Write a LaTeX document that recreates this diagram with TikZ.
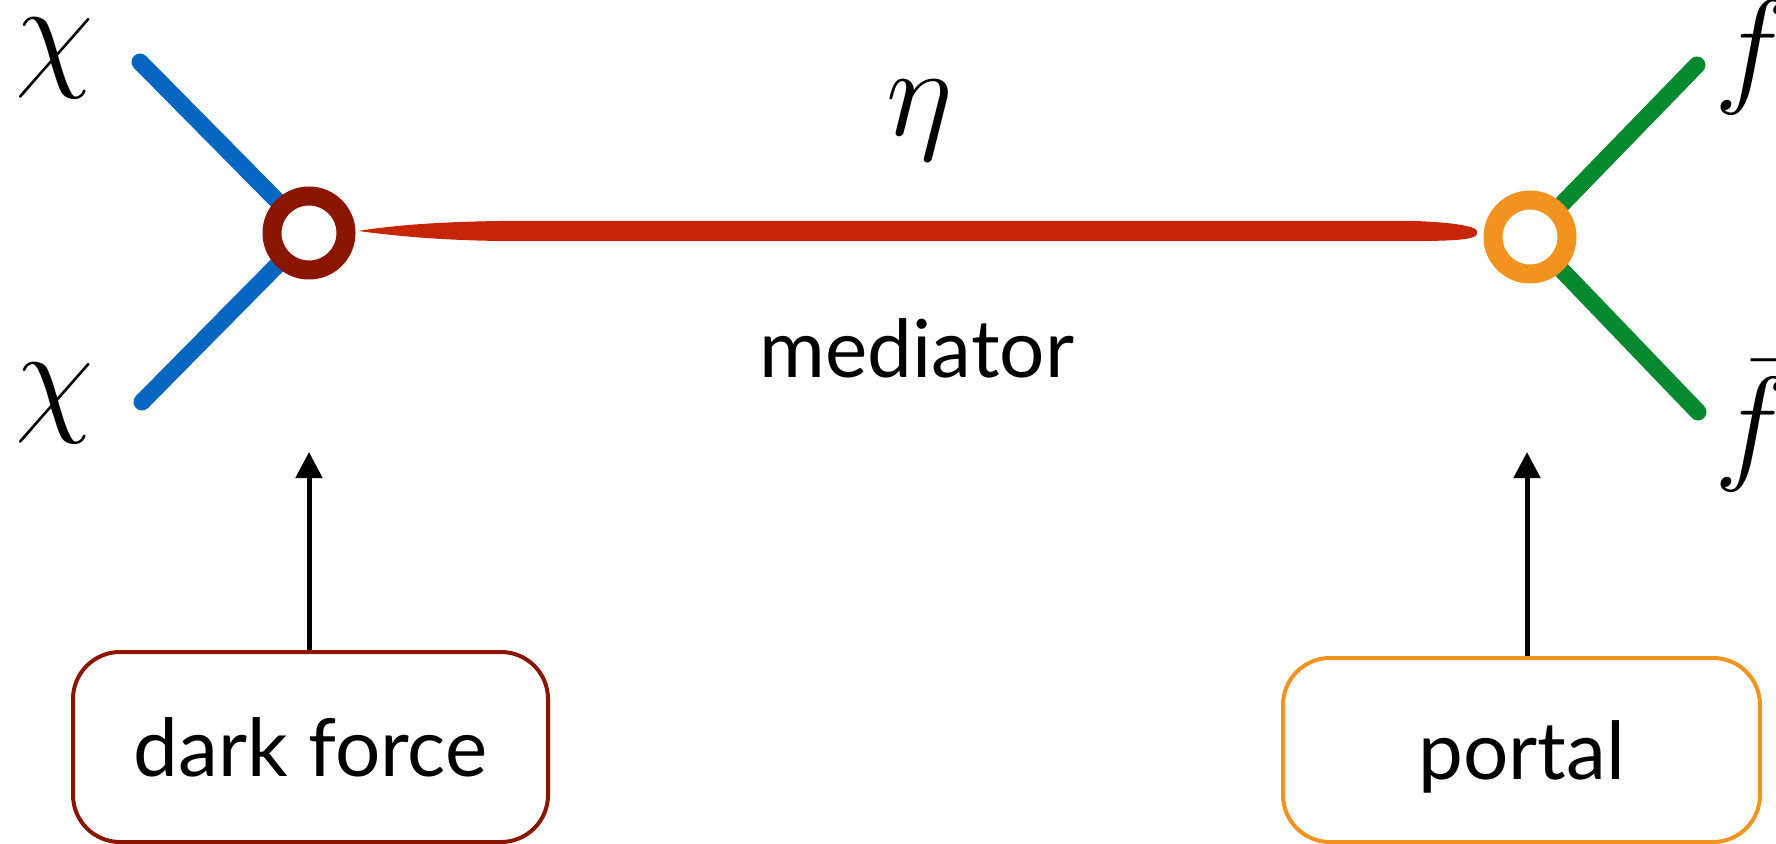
\documentclass[tikz,border=0pt]{standalone}
\usepackage{fix-cm}
\usepackage{fontspec}
\setmainfont{Lato}
\usetikzlibrary{arrows.meta,calc}
\definecolor{chiblue}{HTML}{0766C1}
\definecolor{darkring}{HTML}{8A1602}
\definecolor{medred}{HTML}{C72508}
\definecolor{portorange}{HTML}{F3931F}
\definecolor{fgreen}{HTML}{06892F}
\tikzset{
  mathlbl/.style={font=\fontsize{64}{76}\selectfont, inner sep=0pt},
  wordlbl/.style={font=\fontsize{40}{48}\selectfont, inner sep=0pt},
  vertexnode/.style={circle, minimum size=46pt, inner sep=0pt},
  ringstroke/.style={line width=9.5pt},
  leg/.style={line width=8.5pt, line cap=round},
  uparrow/.style={line width=2.5pt, -{Triangle[length=13pt,width=13pt]}},
  labelbox/.style={draw, line width=2pt, rounded corners=23.5pt, inner sep=0pt,
    font=\fontsize{40}{48}\selectfont, text height=29.6pt, text depth=0pt}
}
\begin{document}
\begin{tikzpicture}[x=0.5pt,y=-0.5pt]
\useasboundingbox (0,0) rectangle (1776,844);
% vertices
\node[vertexnode] (L) at (309,233) {};
\node[vertexnode] (R) at (1530,237) {};
% external coordinates
\coordinate (chiA) at (140,62);
\coordinate (chiB) at (142,402);
\coordinate (fA) at (1697,65);
\coordinate (fB) at (1698,412);
% legs
\draw[leg, chiblue] (chiA) -- (L);
\draw[leg, chiblue] (chiB) -- (L);
\draw[leg, fgreen] (fA) -- (R);
\draw[leg, fgreen] (fB) -- (R);
% mediator (tapered brush stroke)
\coordinate (m1) at (358,231);
\coordinate (m2) at (1477,233);
\fill[medred] (m1) .. controls (390,226) and (430,222) .. (500,221)
  -- (1415,221) .. controls (1465,223) and (1480,228) .. (m2)
  .. controls (1478,239) and (1460,241) .. (1415,241)
  -- (500,241) .. controls (430,240) and (390,235) .. (m1) -- cycle;
% rings
\draw[ringstroke, darkring] (L.center) circle[radius=18.5pt];
\draw[ringstroke, portorange] (R.center) circle[radius=18.5pt];
% particle labels
\node[mathlbl] (chi1) at (55,58) {$\chi$};
\node[mathlbl] (chi2) at (55,403) {$\chi$};
\node[mathlbl] (f1) at (1752,58) {$f$};
\node[mathlbl] (f2) at (1752,426) {$\bar f$};
\node[mathlbl] (eta) at (920,120) {$\eta$};
\node[wordlbl, anchor=base] (med) at (917,378) {mediator};
% boxes
\node[labelbox, draw=darkring, minimum width=237.5pt, minimum height=95pt] (dark) at (310.5,747) {dark force};
\node[labelbox, draw=portorange, minimum width=238.5pt, minimum height=92pt] (portal) at (1521.5,750) {portal};
% arrows
\coordinate (tipL) at (309,452);
\coordinate (tipR) at (1527,452);
\draw[uparrow] (dark.north -| tipL) -- (tipL);
\draw[uparrow] (portal.north -| tipR) -- (tipR);
\end{tikzpicture}
\end{document}
